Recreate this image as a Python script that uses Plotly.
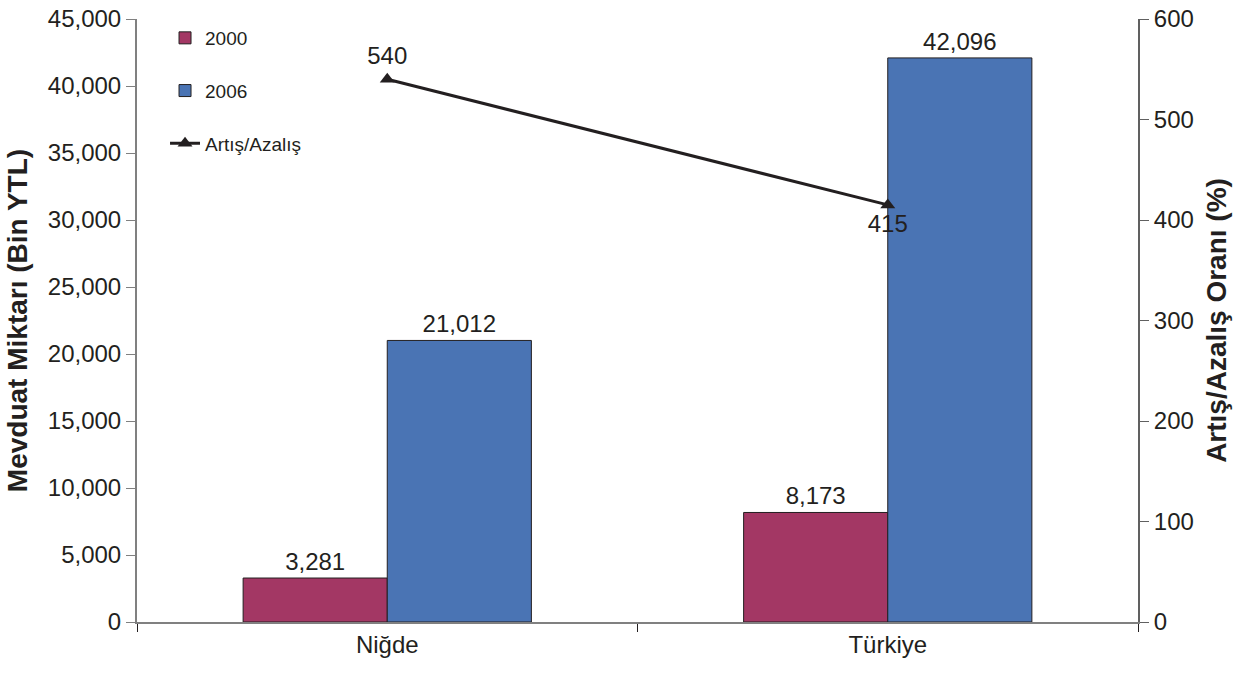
import plotly.graph_objects as go

categories = ["Niğde", "Türkiye"]
values_2000 = [3281, 8173]
values_2006 = [21012, 42096]
change_pct = [540, 415]
change_text_pos = ["top center", "bottom center"]

FONT = "Liberation Sans, Arial, sans-serif"
DARK = "#231F20"

fig = go.Figure()
fig.add_trace(go.Bar(
    x=categories, y=values_2000, name="2000",
    marker=dict(color="#A33764", line=dict(color=DARK, width=1)),
    text=[f"{v:,}" for v in values_2000], textposition="outside",
    textfont=dict(size=24, color=DARK), cliponaxis=False,
    legendgroup="a",
))
fig.add_trace(go.Bar(
    x=categories, y=values_2006, name="2006",
    marker=dict(color="#4A74B4", line=dict(color=DARK, width=1)),
    text=[f"{v:,}" for v in values_2006], textposition="outside",
    textfont=dict(size=24, color=DARK), cliponaxis=False,
    legendgroup="b",
))
fig.add_trace(go.Scatter(
    x=categories, y=change_pct, name="Artış/Azalış", yaxis="y2",
    mode="lines+markers+text",
    line=dict(color=DARK, width=3),
    marker=dict(symbol="triangle-up", size=13, color=DARK),
    text=[str(v) for v in change_pct], textposition=change_text_pos,
    textfont=dict(size=24, color=DARK), cliponaxis=False,
    legendgroup="c",
))

fig.update_layout(
    width=1236, height=681,
    margin=dict(l=137, r=98, t=19, b=59),
    paper_bgcolor="white", plot_bgcolor="white",
    font=dict(family=FONT, size=24, color=DARK),
    barmode="group", bargap=0.424, bargroupgap=0,
    showlegend=True,
    legend=dict(
        x=0.028, y=1.0, xanchor="left", yanchor="top",
        bgcolor="rgba(0,0,0,0)", font=dict(size=19, family=FONT),
        traceorder="grouped", tracegroupgap=25,
    ),
    xaxis=dict(
        type="category", showline=True, linecolor="#808080", linewidth=2,
        ticks="outside", tickson="boundaries", ticklen=8, tickcolor=DARK,
        tickfont=dict(size=24), showgrid=False, zeroline=False,
        automargin=False,
    ),
    yaxis=dict(
        range=[0, 45000], dtick=5000, tickformat=",",
        showline=True, linecolor="#808080", linewidth=2,
        ticks="outside", ticklen=9, tickcolor="#808080",
        tickfont=dict(size=24), showgrid=False, zeroline=False,
        automargin=False, ticklabeloverflow="allow",
        title=dict(text="<b>Mevduat Miktarı (Bin YTL)</b>", font=dict(size=28), standoff=12),
    ),
    yaxis2=dict(
        range=[0, 600], dtick=100, overlaying="y", side="right",
        showline=True, linecolor="#606060", linewidth=2,
        ticks="outside", ticklen=9, tickcolor="#606060",
        tickfont=dict(size=24), showgrid=False, zeroline=False,
        automargin=False, ticklabeloverflow="allow",
        title=dict(text="<b>Artış/Azalış Oranı (%)</b>", font=dict(size=28), standoff=14),
    ),
)

fig.write_html(
    "out.html",
    config={"displayModeBar": False},
    post_script="document.body.style.margin='0';",
)
